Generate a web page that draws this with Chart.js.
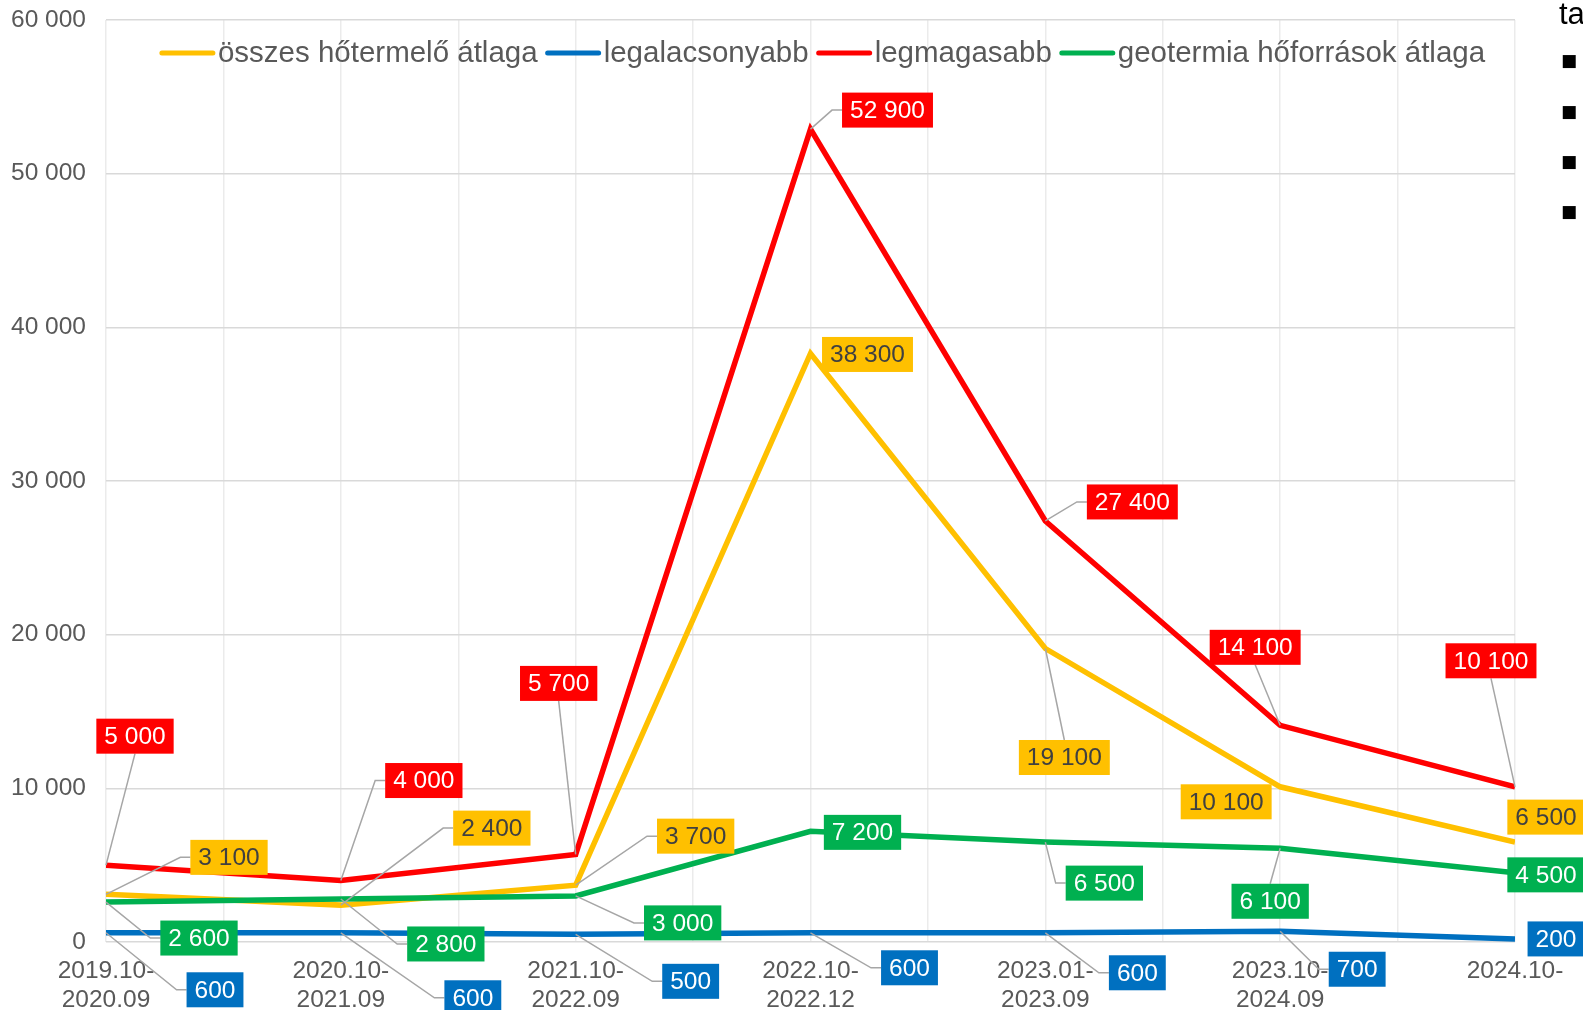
<!DOCTYPE html>
<html>
<head>
<meta charset="utf-8">
<script src="https://cdn.jsdelivr.net/npm/chart.js@4"></script>
<style>
  html, body { margin: 0; padding: 0; background: #fff; overflow: hidden; }
  #chart { display: block; }
</style>
</head>
<body>
<canvas id="chart" width="1583" height="1010"></canvas>
<script>
// periods on the x axis
var periods = [
  ['2019.10-', '2020.09'],
  ['2020.10-', '2021.09'],
  ['2021.10-', '2022.09'],
  ['2022.10-', '2022.12'],
  ['2023.01-', '2023.09'],
  ['2023.10-', '2024.09'],
  ['2024.10-']
];

var atlag = [3100, 2400, 3700, 38300, 19100, 10100, 6500];
var legalacsonyabb = [600, 600, 500, 600, 600, 700, 200];
var legmagasabb = [5000, 4000, 5700, 52900, 27400, 14100, 10100];
var geotermia = [2600, 2800, 3000, 7200, 6500, 6100, 4500];

var yTicks = [0, 10000, 20000, 30000, 40000, 50000, 60000];

// where each value label box sits, relative to its point (px)
var atlagLabelPos = [[123, -37], [151, -77], [120, -49], [57, 1], [19, 109], [-54, 15], [31, -25]];
var alacsLabelPos = [[109, 57], [132, 65], [115, 47], [99, 35], [92, 40], [77, 38], [41, 0]];
var magasLabelPos = [[29, -129], [83, -100], [-17, -171], [77, -19], [87, -19], [-25, -78], [-24, -126]];
var geoLabelPos = [[93, 36], [105, 45], [107, 27], [52, 1], [59, 41], [-10, 53], [31, 2]];

var FONT = '"Liberation Sans", Arial, sans-serif';

function fmt(v) {
  return String(v).replace(/\B(?=(\d{3})+(?!\d))/g, ' ');
}

function toPoints(arr) {
  return arr.map(function (v, i) { return { x: i, y: v }; });
}

function line(label, values, color, order, labelPos, textColor) {
  return {
    label: label,
    data: toPoints(values),
    borderColor: color,
    backgroundColor: color,
    borderWidth: 5.5,
    pointRadius: 0,
    tension: 0,
    fill: false,
    order: order,
    labelPos: labelPos,
    labelText: textColor
  };
}

var legendPlugin = {
  id: 'topLegend',
  afterDraw: function (chart) {
    var ctx = chart.ctx, area = chart.chartArea;
    ctx.save();
    ctx.font = '29.5px ' + FONT;
    var items = chart.data.datasets.map(function (d) {
      return { text: d.label, color: d.borderColor, w: ctx.measureText(d.label).width };
    });
    var total = 0;
    items.forEach(function (it) { total += 55 + 3 + it.w; });
    total += 8 * (items.length - 1);
    var x = (area.left + area.right) / 2 + 12 - total / 2;
    var y = area.top + 33;
    ctx.textBaseline = 'middle';
    items.forEach(function (it) {
      ctx.strokeStyle = it.color;
      ctx.lineWidth = 5;
      ctx.lineCap = 'round';
      ctx.beginPath();
      ctx.moveTo(x + 2, y);
      ctx.lineTo(x + 53, y);
      ctx.stroke();
      ctx.fillStyle = '#595959';
      ctx.fillText(it.text, x + 58, y + 1);
      x += 55 + 3 + it.w + 8;
    });

    // cut-off text box on the right edge
    ctx.fillStyle = '#000';
    ctx.textBaseline = 'alphabetic';
    ctx.font = '31px ' + FONT;
    ctx.fillText('ta', 1559, 24);
    ctx.font = '17px "DejaVu Sans", sans-serif';
    ctx.textBaseline = 'middle';
    [62, 113, 163, 213].forEach(function (yy) { ctx.fillText('\u25A0', 1561, yy); });
    ctx.restore();
  }
};

var valueLabelPlugin = {
  id: 'valueLabels',
  afterDatasetsDraw: function (chart) {
    var ctx = chart.ctx;
    ctx.save();
    ctx.font = '24.5px ' + FONT;
    ctx.textBaseline = 'middle';
    ctx.textAlign = 'center';
    [0, 1, 2, 3].forEach(function (di) {
      var ds = chart.data.datasets[di];
      var meta = chart.getDatasetMeta(di);
      meta.data.forEach(function (pt, i) {
        var txt = fmt(ds.data[i].y);
        var off = ds.labelPos[i];
        var cx = pt.x + off[0], cy = pt.y + off[1];
        var w = ctx.measureText(txt).width + 16, h = 35;
        var left = cx - w / 2, top = cy - h / 2, bottom = cy + h / 2;
        ctx.strokeStyle = '#A6A6A6';
        ctx.lineWidth = 1.5;
        ctx.beginPath();
        if (left - pt.x > 18) {
          ctx.moveTo(pt.x, pt.y);
          ctx.lineTo(left - 10, cy);
          ctx.lineTo(left, cy);
          ctx.stroke();
        } else if (pt.y > bottom + 18) {
          ctx.moveTo(pt.x, pt.y);
          ctx.lineTo(cx, bottom);
          ctx.stroke();
        } else if (pt.y < top - 18) {
          ctx.moveTo(pt.x, pt.y);
          ctx.lineTo(cx, top);
          ctx.stroke();
        }
        ctx.fillStyle = ds.borderColor;
        ctx.fillRect(left, top, w, h);
        ctx.fillStyle = ds.labelText;
        ctx.fillText(txt, cx, cy + 1);
      });
    });
    ctx.restore();
  }
};

var chart = new Chart(document.getElementById('chart').getContext('2d'), {
  type: 'line',
  data: {
    datasets: [
      line('összes hőtermelő átlaga', atlag, '#FFC000', 4, atlagLabelPos, '#404040'),
      line('legalacsonyabb', legalacsonyabb, '#0070C0', 3, alacsLabelPos, '#FFFFFF'),
      line('legmagasabb', legmagasabb, '#FF0000', 2, magasLabelPos, '#FFFFFF'),
      line('geotermia hőforrások átlaga', geotermia, '#00B050', 1, geoLabelPos, '#FFFFFF')
    ]
  },
  options: {
    responsive: false,
    animation: false,
    devicePixelRatio: 1,
    layout: { padding: { left: 0, top: 20, right: 68, bottom: 0 } },
    plugins: {
      legend: { display: false },
      tooltip: { enabled: false }
    },
    scales: {
      x: {
        type: 'linear',
        min: 0,
        max: periods.length - 1,
        afterFit: function (scale) {
          scale.height = 68;
          scale.paddingLeft = 0;
          scale.paddingRight = 0;
        },
        border: { display: false },
        grid: { color: '#EBEBEB', lineWidth: 1.5, drawTicks: false },
        ticks: {
          stepSize: 0.5,
          autoSkip: false,
          maxRotation: 0,
          padding: 15,
          color: '#595959',
          font: { family: FONT, size: 24.5, lineHeight: 1.17 },
          callback: function (v) {
            return Number.isInteger(v) ? periods[v] : '';
          }
        }
      },
      y: {
        min: yTicks[0],
        max: yTicks[yTicks.length - 1],
        afterFit: function (scale) {
          scale.width = 106;
          scale.paddingTop = 0;
          scale.paddingBottom = 0;
        },
        afterBuildTicks: function (scale) {
          scale.ticks = yTicks.map(function (v) { return { value: v }; });
        },
        border: { display: false },
        grid: { color: '#D9D9D9', lineWidth: 1.5, drawTicks: false },
        ticks: {
          padding: 20,
          color: '#595959',
          font: { family: FONT, size: 24.5 },
          callback: function (v) { return fmt(v); }
        }
      }
    }
  },
  plugins: [valueLabelPlugin, legendPlugin]
});
</script>
</body>
</html>
